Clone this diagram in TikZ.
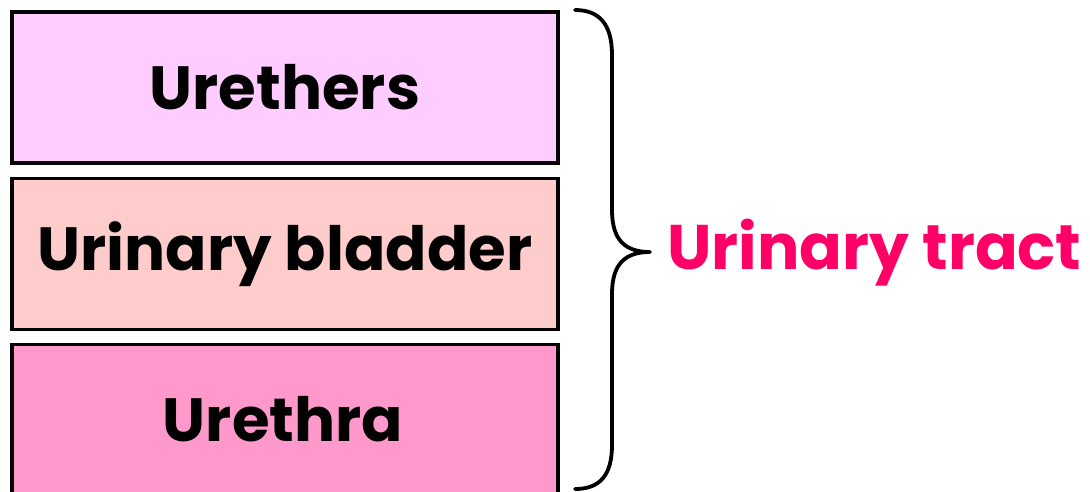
\documentclass[tikz,border=0pt]{standalone}
\usepackage{fontspec}
\setmainfont{Poppins}
\definecolor{boxA}{HTML}{FFCCFF}
\definecolor{boxB}{HTML}{FFCCCC}
\definecolor{boxC}{HTML}{FF99CC}
\definecolor{tractred}{HTML}{FF0066}
\begin{document}
\begin{tikzpicture}[x=1pt,y=-1pt,
  organ/.style={draw=black, line width=3.8pt, minimum width=546pt, minimum height=151pt, anchor=north west, inner sep=0pt,
    font=\fontsize{61}{70}\selectfont\bfseries},
  bracestyle/.style={draw=black, line width=3.8pt, line cap=round, line join=round}]
\useasboundingbox (0,0) rectangle (1090,491);
\begin{scope}
\clip (0,0) rectangle (1090,491);
\node[organ, fill=boxA] (ureters) at (10,10) {Urethers};
\node[organ, fill=boxB] (bladder) at (10,176.5) {Urinary bladder};
\node[organ, fill=boxC, minimum height=160pt] (urethra) at (10,342.5) {};
\node[font=\fontsize{61}{70}\selectfont\bfseries] (urethratext) at (283,419) {Urethra};
\end{scope}
\coordinate (btop) at (575,10);
\coordinate (bbot) at (575,489);
\coordinate (btip) at (650,252);
\draw[bracestyle] (btop) .. controls (600,10) and (612,25) .. (612,55)
  -- (612,210) .. controls (612,240) and (625,252) .. (btip)
  .. controls (625,252) and (612,264) .. (612,294)
  -- (612,445) .. controls (612,475) and (600,489) .. (bbot);
\node[anchor=west, text=tractred, font=\fontsize{63}{72}\selectfont\bfseries, inner sep=0pt] (tract) at (667,253) {Urinary tract};
\end{tikzpicture}
\end{document}
